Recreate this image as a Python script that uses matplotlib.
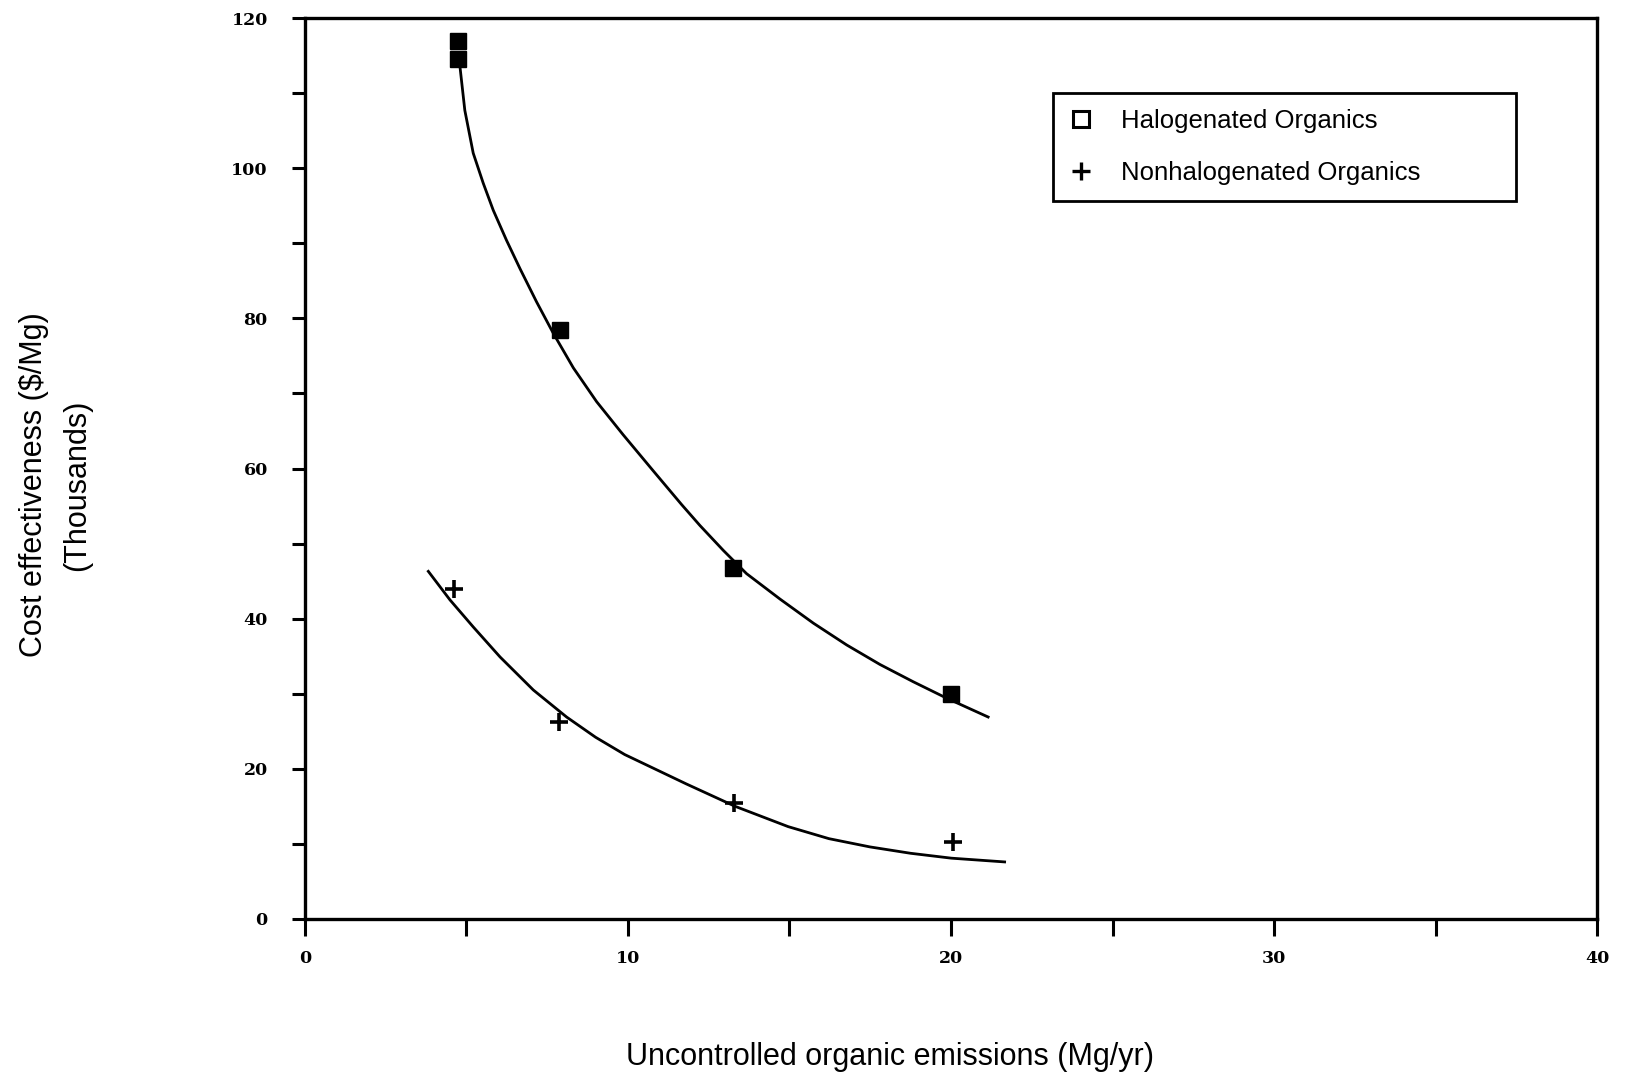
import numpy as np
import matplotlib.pyplot as plt
from matplotlib.lines import Line2D

# Pontos medidos (emissões em Mg/ano, custo em milhares de $/Mg)
halo_x = [4.75, 4.75, 7.9, 13.25, 20.0]
halo_y = [116.9, 114.6, 78.4, 46.8, 29.9]

nonhalo_x = [4.63, 7.88, 13.28, 20.06]
nonhalo_y = [43.9, 26.3, 15.4, 10.3]

# Curvas ajustadas
halo_curve_x = [4.80, 4.95, 5.21, 5.52, 5.83, 6.24, 6.66, 7.17, 7.69, 8.31,
                9.03, 9.85, 10.78, 11.66, 12.23, 12.95, 13.67, 14.71, 15.74,
                16.77, 17.80, 18.83, 19.87, 21.15]
halo_curve_y = [113.5, 107.7, 102.0, 98.0, 94.4, 90.4, 86.6, 82.2, 78.0, 73.4,
                68.9, 64.5, 59.7, 55.2, 52.4, 49.1, 46.0, 42.6, 39.4,
                36.5, 33.9, 31.6, 29.4, 26.9]

nonhalo_curve_x = [3.82, 4.49, 5.21, 6.04, 7.07, 8.10, 9.00, 9.90, 11.80,
                   13.32, 14.96, 16.22, 17.49, 18.75, 20.01, 21.66]
nonhalo_curve_y = [46.3, 42.5, 38.9, 34.9, 30.5, 26.9, 24.2, 21.9, 18.0,
                   15.0, 12.3, 10.7, 9.6, 8.75, 8.1, 7.6]

x_ticks = [0, 10, 20, 30, 40]
y_ticks = [0, 20, 40, 60, 80, 100, 120]

fig = plt.figure(figsize=(16.28, 10.79), dpi=100)
ax = fig.add_axes([0.1873, 0.1483, 0.7937, 0.835])

ax.plot(halo_curve_x, halo_curve_y, color="black", linewidth=2.0)
ax.plot(nonhalo_curve_x, nonhalo_curve_y, color="black", linewidth=2.0)

ax.plot(halo_x, halo_y, linestyle="none", marker="s", markersize=12,
        color="black")
ax.plot(nonhalo_x, nonhalo_y, linestyle="none", marker="+", markersize=13,
        markeredgewidth=2.6, color="black")

ax.set_xlim(0, 40)
ax.set_ylim(0, 120)

ax.set_xticks(x_ticks)
ax.set_xticks(np.arange(5, 40, 10), minor=True)
ax.set_yticks(y_ticks)
ax.set_yticks(np.arange(10, 120, 20), minor=True)

for lab in ax.get_xticklabels() + ax.get_yticklabels():
    lab.set_fontfamily("DejaVu Serif")
    lab.set_fontweight("bold")
    lab.set_fontsize(12.5)

ax.tick_params(which="both", direction="out", width=2.2, color="black")
ax.tick_params(axis="x", which="both", length=12.5, pad=10)
ax.tick_params(axis="y", which="both", length=9.7, pad=17)

for spine in ax.spines.values():
    spine.set_linewidth(2.4)

ax.set_xlabel("Uncontrolled organic emissions (Mg/yr)", fontsize=22,
              fontfamily="Liberation Sans")
ax.xaxis.set_label_coords(0.4525, -0.1365)
ax.set_ylabel("Cost effectiveness ($/Mg)\n(Thousands)", fontsize=22,
              fontfamily="Liberation Sans", linespacing=1.54)
ax.yaxis.set_label_coords(-0.165, 0.4817)

handles = [
    Line2D([], [], linestyle="none", marker="s", markersize=11,
           markerfacecolor="white", markeredgecolor="black",
           markeredgewidth=2.2),
    Line2D([], [], linestyle="none", marker="+", markersize=13,
           markeredgewidth=2.4, color="black"),
]
leg = ax.legend(handles, ["Halogenated Organics", "Nonhalogenated Organics"],
                loc="upper left", bbox_to_anchor=(0.5786, 0.7163, 0.3584, 0.2),
                mode="expand", frameon=True, fancybox=False, edgecolor="black",
                prop={"family": "Liberation Sans", "size": 18.5},
                handlelength=1.0, handletextpad=1.07, labelspacing=1.1,
                borderpad=0.6, borderaxespad=0)
leg.get_frame().set_linewidth(2.0)
leg.get_frame().set_alpha(1)

plt.savefig("out.png", dpi=100)
